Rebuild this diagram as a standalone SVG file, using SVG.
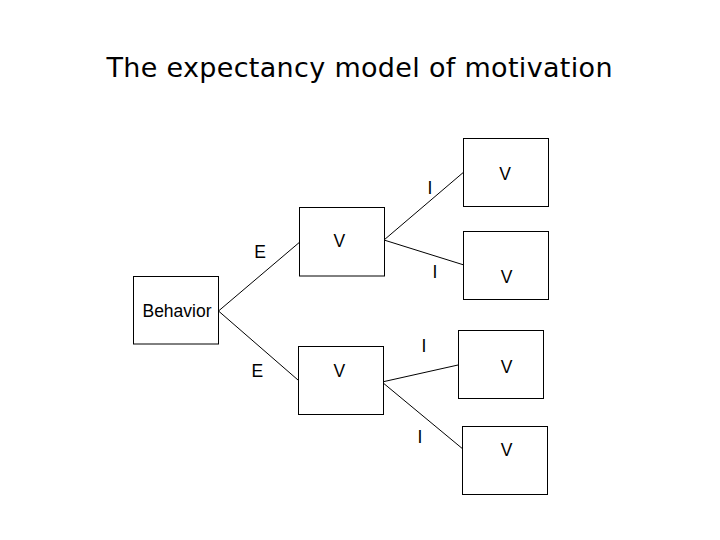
<svg xmlns="http://www.w3.org/2000/svg" width="720" height="540" viewBox="0 0 720 540">
<style>
.box{fill:#fff;stroke:#000;stroke-width:1}
.t{font-family:"Liberation Sans",Arial,sans-serif;font-size:17.5px;fill:#000}
.c{text-anchor:middle}
.ttl{font-family:"DejaVu Sans",Verdana,sans-serif;font-size:27px;fill:#000}
#connectors line{stroke:#000;stroke-width:1}
</style>
<rect width="720" height="540" fill="#fff"/>
<text class="ttl" x="106.5" y="77.3" textLength="506" lengthAdjust="spacing">The expectancy model of motivation</text>
<g id="connectors">
<line x1="218.5" y1="311" x2="299" y2="242.7"/>
<line x1="218.5" y1="311" x2="298" y2="380"/>
<line x1="384" y1="240" x2="463" y2="172.7"/>
<line x1="384" y1="240" x2="463" y2="264.7"/>
<line x1="382" y1="382" x2="458" y2="365"/>
<line x1="382" y1="382" x2="462" y2="448.3"/>
</g>
<g id="labels">
<text class="t c" x="260" y="258">E</text>
<text class="t c" x="257.3" y="377">E</text>
<text class="t c" x="430" y="194">I</text>
<text class="t c" x="435" y="278">I</text>
<text class="t c" x="424" y="352">I</text>
<text class="t c" x="420" y="443.3">I</text>
</g>
<g id="behavior"><rect class="box" x="133.5" y="276.5" width="85" height="67.5"/><text class="t c" x="177" y="316.7">Behavior</text></g>
<g id="v1"><rect class="box" x="299.5" y="207.5" width="85" height="68.5"/><text class="t c" x="339.3" y="247.3">V</text></g>
<g id="v2"><rect class="box" x="298.5" y="346.5" width="85" height="68"/><text class="t c" x="339.3" y="377.3">V</text></g>
<g id="v11"><rect class="box" x="463.5" y="138.5" width="85" height="68"/><text class="t c" x="505" y="180">V</text></g>
<g id="v12"><rect class="box" x="463.5" y="231.5" width="85" height="68"/><text class="t c" x="506.7" y="282.7">V</text></g>
<g id="v21"><rect class="box" x="458.5" y="330.5" width="85" height="68"/><text class="t c" x="506.7" y="372.7">V</text></g>
<g id="v22"><rect class="box" x="462.5" y="426.5" width="85" height="68"/><text class="t c" x="506.7" y="456">V</text></g>
</svg>
